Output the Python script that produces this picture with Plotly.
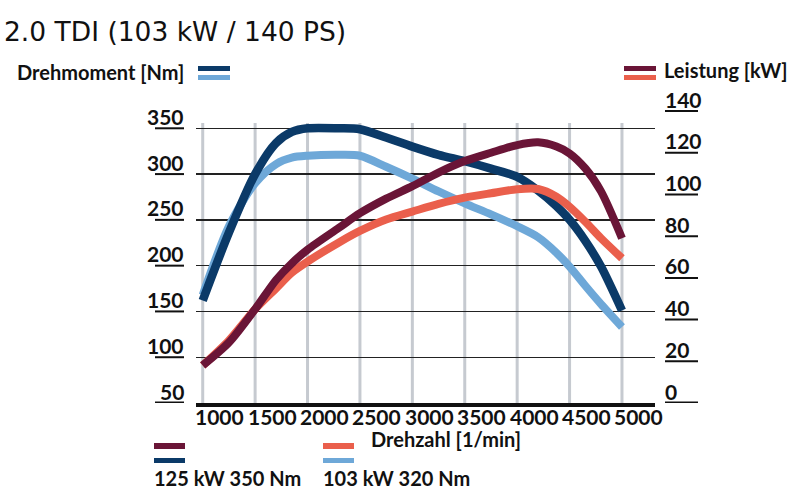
import plotly.graph_objects as go

# ---------------- data ----------------
rpm = [1000, 1250, 1500, 1700, 1850, 2000, 2300, 2500, 2750, 3000,
       3250, 3500, 3750, 4000, 4200, 4375, 4500, 4650, 4800, 5000]

torque_125 = [162, 236, 300, 334, 346, 350, 350, 349, 340, 330,
              321, 314, 306, 297, 282, 265, 250, 227, 199, 151]
torque_103 = [168, 243, 290, 311, 318, 320, 321, 320, 308, 295,
              281, 268, 256, 243, 231, 214, 199, 178, 158, 133]
power_125 = [18, 29, 45, 59, 67, 73.5, 84, 91, 98, 104,
             110.5, 116, 120, 123.7, 125, 123, 119.7, 112.5, 101.5, 79]
power_103 = [18, 30, 45, 55, 62.5, 67.8, 77, 82.5, 88, 91.8,
             95.5, 98.5, 100.6, 102.5, 102.6, 98.9, 94.1, 86.9, 79, 69.4]

x_ticks = [1000, 1500, 2000, 2500, 3000, 3500, 4000, 4500, 5000]
nm_ticks = [50, 100, 150, 200, 250, 300, 350]
kw_ticks = [0, 20, 40, 60, 80, 100, 120, 140]

title_text = "2.0 TDI (103 kW / 140 PS)"
left_title = "Drehmoment [Nm]"
right_title = "Leistung [kW]"
x_title = "Drehzahl [1/min]"
legend_125 = "125 kW 350 Nm"
legend_103 = "103 kW 320 Nm"

# ---------------- style ----------------
C_DARKBLUE = "#0b3a68"
C_LIGHTBLUE = "#6ea8d8"
C_MAROON = "#6a1537"
C_CORAL = "#ea5f4c"
C_GRID_V = "#c6cad0"
C_TEXT = "#111111"

W, H = 800, 504
ML, MR, MT, MB = 196, 145, 100, 101
PW, PH = W - ML - MR, H - MT - MB


def px_x(px):
    return (px - ML) / PW


def px_y(py):
    return (H - MB - py) / PH


FONT = dict(family="Lato", size=20, color=C_TEXT, weight=700)
NUMFONT = dict(family="Lato", size=21, color=C_TEXT, weight=700)

fig = go.Figure()

fig.add_trace(go.Scatter(x=rpm, y=torque_103, mode="lines", yaxis="y",
                         line=dict(color=C_LIGHTBLUE, width=8, shape="spline", smoothing=0.8),
                         hoverinfo="skip"))
fig.add_trace(go.Scatter(x=rpm, y=power_103, mode="lines", yaxis="y2",
                         line=dict(color=C_CORAL, width=8, shape="spline", smoothing=0.8),
                         hoverinfo="skip"))
fig.add_trace(go.Scatter(x=rpm, y=power_125, mode="lines", yaxis="y2",
                         line=dict(color=C_MAROON, width=8, shape="spline", smoothing=0.8),
                         hoverinfo="skip"))
fig.add_trace(go.Scatter(x=rpm, y=torque_125, mode="lines", yaxis="y",
                         line=dict(color=C_DARKBLUE, width=8.5, shape="spline", smoothing=0.8),
                         hoverinfo="skip"))

shapes = []
# vertical light grey gridlines
for v in x_ticks:
    shapes.append(dict(type="line", xref="x", yref="paper", x0=v, x1=v,
                       y0=0, y1=px_y(123), line=dict(color=C_GRID_V, width=3),
                       layer="below"))
# left tick underlines
for v in nm_ticks:
    shapes.append(dict(type="line", xref="paper", yref="y", x0=px_x(155), x1=px_x(184),
                       y0=v, y1=v, line=dict(color=C_TEXT, width=3 if v == nm_ticks[0] else 2)))
# right tick underlines
for v in kw_ticks:
    shapes.append(dict(type="line", xref="paper", yref="y2", x0=px_x(665), x1=px_x(698),
                       y0=v, y1=v, line=dict(color=C_TEXT, width=3 if v == kw_ticks[0] else 2)))


def bar(x0, x1, y0, y1, color):
    shapes.append(dict(type="rect", xref="paper", yref="paper",
                       x0=px_x(x0), x1=px_x(x1), y0=px_y(y1), y1=px_y(y0),
                       fillcolor=color, line=dict(width=0)))


# legend bars
bar(198, 230, 66, 71, C_DARKBLUE)
bar(198, 230, 75, 80, C_LIGHTBLUE)
bar(624, 656, 66, 71, C_MAROON)
bar(624, 656, 75, 80, C_CORAL)
bar(154, 185, 443, 449, C_MAROON)
bar(154, 185, 458, 463, C_DARKBLUE)
bar(323, 354, 443, 449, C_CORAL)
bar(323, 354, 458, 463, C_LIGHTBLUE)

annotations = []
for v in nm_ticks:
    annotations.append(dict(text=str(v), xref="paper", yref="y", x=px_x(186), y=v,
                            xanchor="right", yanchor="middle", yshift=12,
                            showarrow=False, font=NUMFONT))
for v in kw_ticks:
    annotations.append(dict(text=str(v), xref="paper", yref="y2", x=px_x(663), y=v,
                            xanchor="left", yanchor="middle", yshift=12,
                            showarrow=False, font=NUMFONT))
for v in x_ticks:
    annotations.append(dict(text=str(v), xref="x", yref="paper", x=v, y=px_y(416),
                            xanchor="center", yanchor="middle", xshift=17,
                            showarrow=False, font=NUMFONT))


def label(text, x, y, anchor="left"):
    annotations.append(dict(text=text, xref="paper", yref="paper", x=px_x(x), y=px_y(y),
                            xanchor=anchor, yanchor="middle", showarrow=False, font=FONT))


label(left_title, 15, 72)
label(right_title, 662, 70)
label(x_title, 446, 439, "center")
label(legend_125, 152, 478)
label(legend_103, 321, 478)

fig.update_layout(
    width=W, height=H,
    margin=dict(l=ML, r=MR, t=MT, b=MB, autoexpand=False),
    paper_bgcolor="white", plot_bgcolor="white",
    showlegend=False,
    title=dict(text=title_text, x=4 / W, xanchor="left", y=1 - 32 / H, yanchor="middle",
               font=dict(family="DejaVu Sans", size=26.5, color=C_TEXT)),
    xaxis=dict(range=[936, 5315], tickvals=x_ticks, showticklabels=False,
               showgrid=False, zeroline=False, showline=True, linecolor=C_TEXT, linewidth=3.5,
               ticks="", fixedrange=True),
    yaxis=dict(range=[50, 380.9], tickvals=nm_ticks[1:], showticklabels=False,
               showgrid=True, gridcolor="#222222", gridwidth=1.3, zeroline=False,
               ticks="", fixedrange=True),
    yaxis2=dict(range=[0, 145.3], overlaying="y", side="right", showticklabels=False,
                showgrid=False, zeroline=False, ticks="", fixedrange=True),
    shapes=shapes,
    annotations=annotations,
)

fig.write_html("out.html", config={"displayModeBar": False, "staticPlot": True},
               post_script="document.body.style.margin='0';")
